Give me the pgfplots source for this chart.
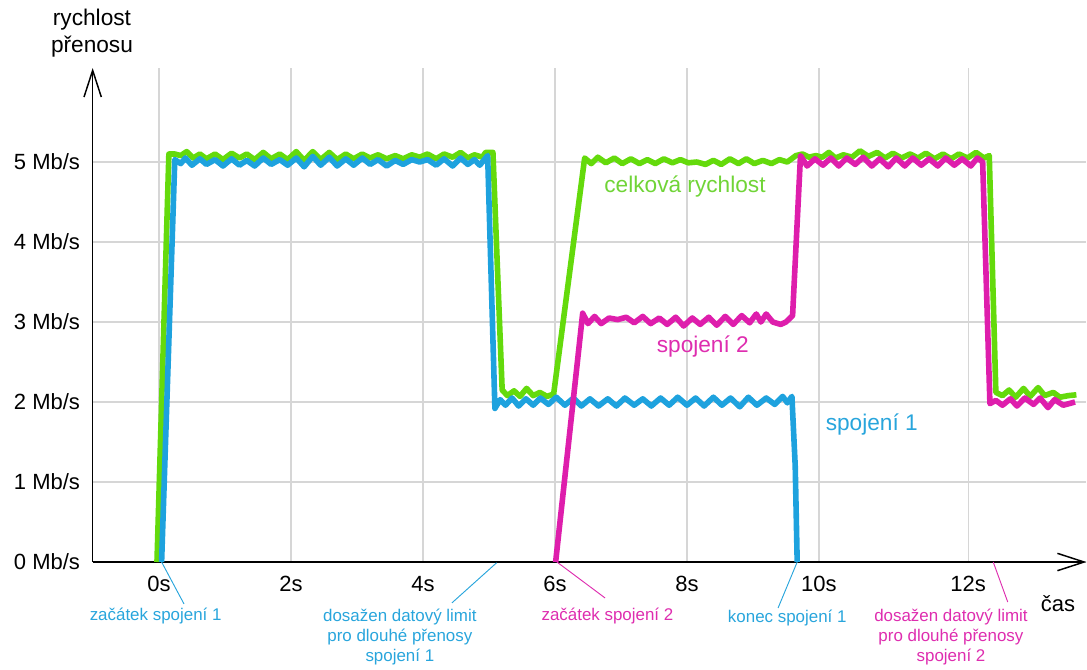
\documentclass[border=0pt]{standalone}
\usepackage{fontspec}
\setmainfont{Liberation Sans}
\usepackage{pgfplots}
\pgfplotsset{compat=1.18}
\usetikzlibrary{arrows.meta}
\definecolor{cgreen}{RGB}{100,218,12}
\definecolor{cblue}{RGB}{30,162,222}
\definecolor{cmag}{RGB}{222,30,172}
\definecolor{tgreen}{RGB}{112,212,55}
\definecolor{tblue}{RGB}{40,165,220}
\definecolor{tmag}{RGB}{222,45,175}
\definecolor{cgrid}{RGB}{214,214,214}
\begin{document}
\begin{tikzpicture}
\path[use as bounding box] (0,0) rectangle (815.25pt,-501.75pt);
\begin{axis}[
  at={(69.5pt,-421.5pt)}, anchor=south west,
  scale only axis, width=745.35pt, height=370.5pt,
  xmin=-1.0045, xmax=14.053, ymin=0, ymax=6.175,
  axis lines=left,
  axis line style={line width=1.1pt, -{Straight Barb[length=20pt,width=13pt,line width=1.1pt]}},
  xtick={0,2,4,6,8,10,12.26}, xticklabels={0s,2s,4s,6s,8s,10s,12s},
  ytick={0,1,2,3,4,5}, yticklabels={0 Mb/s,1 Mb/s,2 Mb/s,3 Mb/s,4 Mb/s,5 Mb/s},
  major tick length=0pt,
  grid=major, grid style={cgrid, line width=0.9pt},
  tick label style={font=\fontsize{16.5}{20}\selectfont},
  xticklabel style={yshift=-7pt},
  yticklabel style={xshift=-6pt},
  clip=false,
]
% celkova rychlost
\addplot[cgreen, line width=4.2pt, line join=round] coordinates {
 (-0.03,0) (0.15,5.1) (0.24,5.1) (0.33,5.08) (0.42,5.13) (0.52,5.05) (0.62,5.1) (0.72,5.04)
 (0.85,5.1) (0.97,5.03) (1.1,5.11) (1.22,5.05) (1.33,5.1) (1.45,5.03) (1.58,5.12) (1.7,5.04)
 (1.83,5.1) (1.95,5.03) (2.08,5.13) (2.2,5.02) (2.33,5.13) (2.45,5.03) (2.58,5.12) (2.7,5.03)
 (2.83,5.1) (2.95,5.04) (3.08,5.1) (3.2,5.05) (3.32,5.09) (3.45,5.04) (3.58,5.08) (3.7,5.04)
 (3.83,5.09) (3.95,5.06) (4.07,5.1) (4.2,5.04) (4.32,5.1) (4.45,5.06) (4.57,5.12) (4.68,5.05)
 (4.78,5.09) (4.9,5.06) (4.95,5.12) (5.06,5.12)
 (5.2,2.15) (5.28,2.08) (5.38,2.14) (5.47,2.07) (5.57,2.17) (5.67,2.08) (5.77,2.12) (5.88,2.07) (5.98,2.1)
 (6.45,5.05) (6.55,4.98) (6.65,5.06) (6.77,4.99) (6.9,5.05) (7.02,4.98) (7.15,5.04) (7.28,4.98)
 (7.4,5.03) (7.52,4.98) (7.65,5.04) (7.78,4.99) (7.9,5.03) (8.02,4.99) (8.15,5.0) (8.28,4.97)
 (8.4,5.02) (8.52,4.97) (8.65,5.04) (8.78,4.98) (8.9,5.04) (9.02,4.98) (9.15,5.02) (9.28,4.98)
 (9.4,5.03) (9.52,5.0) (9.65,5.08) (9.75,5.1) (9.85,5.06) (9.95,5.08) (10.05,5.06) (10.15,5.12)
 (10.25,5.05) (10.37,5.09) (10.5,5.06) (10.62,5.14) (10.75,5.07) (10.88,5.12) (11.0,5.05) (11.12,5.11)
 (11.25,5.05) (11.38,5.1) (11.5,5.05) (11.62,5.11) (11.75,5.04) (11.88,5.1) (12.0,5.04) (12.12,5.1)
 (12.25,5.05) (12.38,5.12) (12.5,5.05) (12.58,5.08)
 (12.68,2.12) (12.78,2.08) (12.88,2.15) (12.98,2.06) (13.1,2.17) (13.2,2.07) (13.32,2.18) (13.42,2.08)
 (13.55,2.12) (13.65,2.06) (13.78,2.08) (13.9,2.09)
};
% spojeni 1
\addplot[cblue, line width=4.2pt, line join=round] coordinates {
 (0.04,0) (0.24,5.03) (0.33,4.98) (0.4,5.05) (0.5,4.96) (0.62,5.04) (0.72,4.97) (0.85,5.03)
 (0.97,4.95) (1.1,5.04) (1.22,4.96) (1.33,5.02) (1.45,4.95) (1.58,5.05) (1.7,4.97) (1.83,5.03)
 (1.95,4.96) (2.08,5.05) (2.2,4.94) (2.33,5.07) (2.45,4.96) (2.58,5.06) (2.7,4.95) (2.83,5.04)
 (2.95,4.96) (3.08,5.05) (3.2,4.97) (3.32,5.03) (3.45,4.95) (3.58,5.02) (3.7,4.97) (3.83,5.03)
 (3.95,5.0) (4.07,5.03) (4.2,4.96) (4.32,5.04) (4.45,4.95) (4.57,5.05) (4.68,4.97) (4.78,5.03)
 (4.86,4.96) (4.98,5.08)
 (5.09,1.92) (5.17,2.03) (5.25,1.96) (5.35,2.05) (5.45,1.95) (5.56,2.04) (5.67,1.96) (5.78,2.05)
 (5.9,1.97) (6.02,2.06) (6.15,1.96) (6.28,2.05) (6.4,1.95) (6.53,2.04) (6.66,1.95) (6.8,2.04)
 (6.93,1.95) (7.06,2.05) (7.2,1.96) (7.33,2.04) (7.46,1.95) (7.6,2.05) (7.73,1.96) (7.86,2.06)
 (8.0,1.96) (8.13,2.05) (8.26,1.95) (8.4,2.06) (8.53,1.96) (8.66,2.05) (8.8,1.94) (8.93,2.06)
 (9.06,1.96) (9.2,2.05) (9.33,1.97) (9.45,2.07) (9.52,1.99) (9.59,2.07) (9.64,1.2) (9.67,0)
};
% spojeni 2
\addplot[cmag, line width=4.2pt, line join=round] coordinates {
 (6.01,0) (6.42,3.11) (6.5,2.98) (6.6,3.07) (6.7,2.98) (6.82,3.05) (6.95,3.03) (7.08,3.06)
 (7.2,2.99) (7.33,3.07) (7.45,2.98) (7.58,3.05) (7.7,2.97) (7.83,3.06) (7.95,2.95) (8.08,3.05)
 (8.2,2.97) (8.33,3.06) (8.45,2.96) (8.58,3.07) (8.7,2.97) (8.83,3.08) (8.95,2.99) (9.05,3.1)
 (9.12,3.0) (9.2,3.1) (9.3,3.0) (9.42,2.97) (9.5,3.0) (9.6,3.08)
 (9.72,5.08) (9.82,4.95) (9.94,5.04) (10.06,4.96) (10.18,5.05) (10.3,4.95) (10.42,5.05) (10.55,4.97)
 (10.67,5.06) (10.8,4.95) (10.92,5.04) (11.05,4.94) (11.17,5.05) (11.3,4.95) (11.42,5.05) (11.55,4.96)
 (11.67,5.04) (11.8,4.95) (11.92,5.05) (12.05,4.96) (12.17,5.04) (12.3,4.95) (12.4,5.05) (12.48,5.0)
 (12.59,1.98) (12.68,2.02) (12.78,1.96) (12.9,2.04) (13.0,1.95) (13.12,2.05) (13.25,1.97) (13.35,2.05)
 (13.47,1.93) (13.57,2.03) (13.7,1.96) (13.88,2.0)
};
% labels in the plot
\node[tgreen, font=\fontsize{17}{20}\selectfont] at (axis cs:7.97,4.7) {celková rychlost};
\node[tmag, font=\fontsize{17}{20}\selectfont] at (axis cs:8.24,2.69) {spojení 2};
\node[tblue, font=\fontsize{17}{20}\selectfont] at (axis cs:10.8,1.725) {spojení 1};
% axis titles
\node[align=center, font=\fontsize{17}{20}\selectfont] at (axis cs:-1.015,6.61) {rychlost\\přenosu};
\node[font=\fontsize{16.5}{20}\selectfont] at (axis cs:13.62,-0.525) {čas};
% annotations below the axis
\draw[tblue, line width=0.7pt] (axis cs:0.04,0) -- (axis cs:0.38,-0.525);
\node[tblue, font=\fontsize{12.7}{15}\selectfont] at (axis cs:-0.05,-0.675) {začátek spojení 1};
\draw[tblue, line width=0.7pt] (axis cs:5.115,-0.01) -- (axis cs:4.44,-0.51);
\node[tblue, align=center, font=\fontsize{12.7}{15}\selectfont] at (axis cs:3.65,-0.94) {dosažen datový limit\\pro dlouhé přenosy\\spojení 1};
\draw[tmag, line width=0.7pt] (axis cs:6.03,0) -- (axis cs:6.76,-0.45);
\node[tmag, font=\fontsize{12.7}{15}\selectfont] at (axis cs:6.795,-0.675) {začátek spojení 2};
\draw[tblue, line width=0.7pt] (axis cs:9.67,0) -- (axis cs:9.38,-0.575);
\node[tblue, font=\fontsize{12.7}{15}\selectfont] at (axis cs:9.52,-0.7) {konec spojení 1};
\draw[tmag, line width=0.7pt] (axis cs:12.64,0) -- (axis cs:12.86,-0.5);
\node[tmag, align=center, font=\fontsize{12.7}{15}\selectfont] at (axis cs:12.0,-0.94) {dosažen datový limit\\pro dlouhé přenosy\\spojení 2};
\end{axis}
\end{tikzpicture}
\end{document}
